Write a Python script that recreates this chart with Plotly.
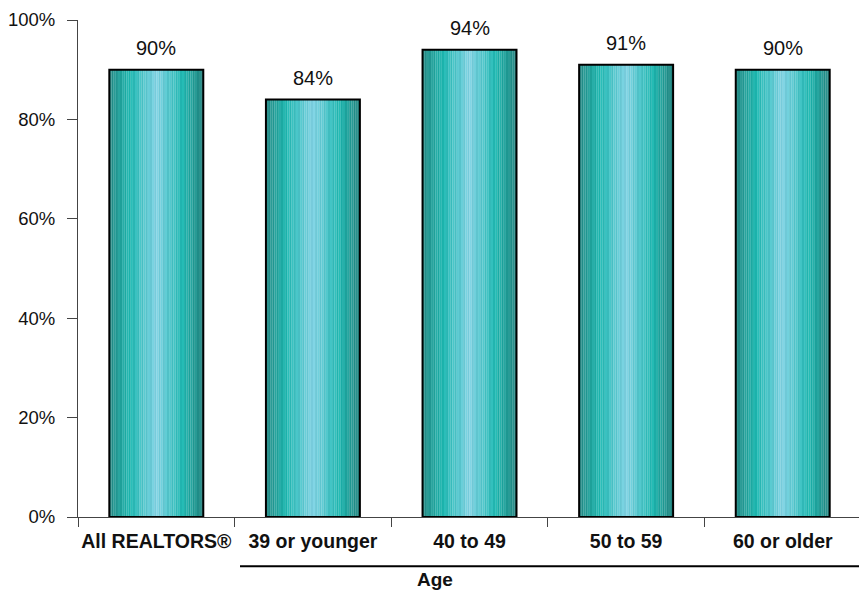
import plotly.graph_objects as go

# Share of REALTORS® by age group
categories = ["All REALTORS®", "39 or younger", "40 to 49", "50 to 59", "60 or older"]
values = [90, 84, 94, 91, 90]
y_ticks = [0, 20, 40, 60, 80, 100]
y_tick_labels = ["0%", "20%", "40%", "60%", "80%", "100%"]
group_title = "Age"

FONT = "Arial, Liberation Sans, sans-serif"
BAR_W = 0.6
N_SLICES = 44

# Cylinder-style shading across each bar: dark edges, saturated teal, light centre
stops = [(0.0, (40, 140, 135)), (0.22, (32, 184, 177)), (0.5, (128, 210, 226)),
         (0.78, (32, 184, 177)), (1.0, (38, 132, 128))]


def shade(t, k):
    for (t0, c0), (t1, c1) in zip(stops[:-1], stops[1:]):
        if t0 <= t <= t1:
            f = (t - t0) / (t1 - t0)
            rgb = [c0[j] + (c1[j] - c0[j]) * f for j in range(3)]
            break
    d = 5 if k % 2 == 0 else -5  # fine vertical striping
    rgb = [int(max(0, min(255, v + d))) for v in rgb]
    return "rgb({},{},{})".format(*rgb)


fig = go.Figure()
slice_w = BAR_W / N_SLICES
for k in range(N_SLICES):
    t = (k + 0.5) / N_SLICES
    fig.add_trace(go.Bar(
        x=categories, y=values,
        width=slice_w * 1.05, offset=-BAR_W / 2 + k * slice_w,
        marker=dict(color=shade(t, k), line=dict(width=0)),
        hoverinfo="skip", showlegend=False,
    ))

# Outline of each bar
fig.add_trace(go.Bar(
    x=categories, y=values, width=BAR_W, offset=-BAR_W / 2,
    marker=dict(color="rgba(0,0,0,0)", line=dict(color="#000", width=2)),
    showlegend=False,
))

# Value labels above the bars
annotations = [
    dict(x=c, y=v, xref="x", yref="y", text=f"{v}%", showarrow=False,
         xanchor="center", yanchor="bottom", yshift=9,
         font=dict(family=FONT, size=20, color="#111"))
    for c, v in zip(categories, values)
]
annotations.append(dict(
    text=f"<b>{group_title}</b>", xref="paper", yref="paper",
    x=(435 - 78) / 781, y=-0.126, xanchor="center", yanchor="middle",
    showarrow=False, font=dict(family=FONT, size=19, color="#111")))

fig.update_layout(
    barmode="overlay",
    width=859, height=592,
    margin=dict(l=78, r=0, t=20, b=75, autoexpand=False),
    paper_bgcolor="white", plot_bgcolor="white",
    font=dict(family=FONT, color="#111"),
    xaxis=dict(
        type="category", range=[-0.5, 4.487], tickson="boundaries",
        ticks="outside", ticklen=9, tickcolor="#444", tickwidth=1,
        showline=True, linecolor="#444", linewidth=1, showgrid=False,
        tickangle=0, automargin=False,
        tickfont=dict(family=FONT, size=19.5, color="#111", weight="bold"),
        ticklabelstandoff=7,
    ),
    yaxis=dict(
        range=[0, 100], tickvals=y_ticks, ticktext=y_tick_labels,
        ticks="outside", ticklen=10, tickcolor="#444", tickwidth=1,
        showline=True, linecolor="#444", linewidth=1, showgrid=False,
        zeroline=False, automargin=False,
        tickfont=dict(family=FONT, size=18.5, color="#111"),
        ticklabelstandoff=8,
    ),
    shapes=[dict(type="line", xref="paper", yref="paper",
                 x0=(240 - 78) / 781, x1=1.0, y0=-0.099, y1=-0.099,
                 line=dict(color="#000", width=2))],
    annotations=annotations,
)

fig.write_html("out.html")
